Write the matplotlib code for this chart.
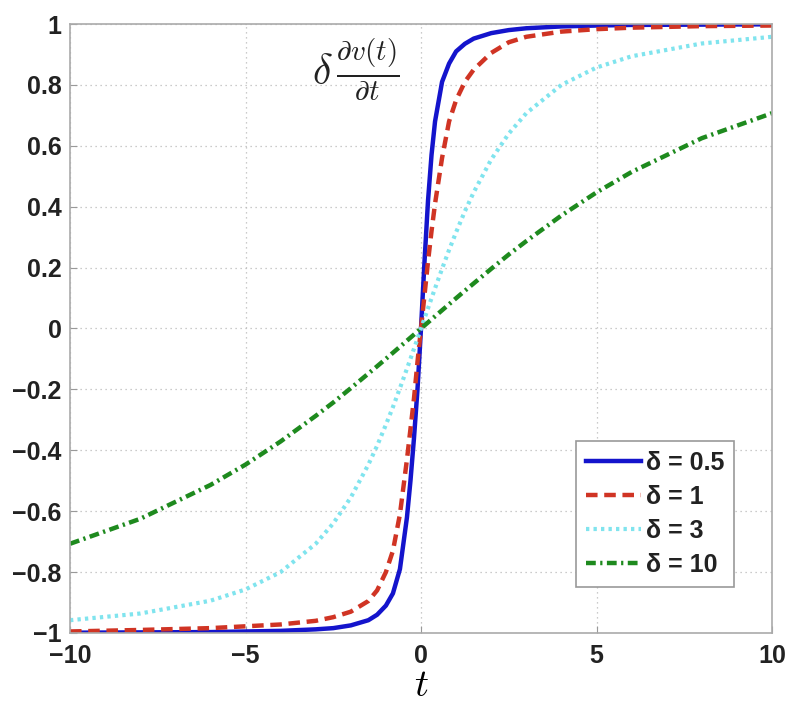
import matplotlib
matplotlib.use("Agg")
import matplotlib.pyplot as plt

# ---- data ----
t = [-10, -8, -6, -5, -4, -3, -2.5, -2, -1.5, -1.25, -1, -0.8, -0.6, -0.4, -0.3, -0.2, -0.1,
     0, 0.1, 0.2, 0.3, 0.4, 0.6, 0.8, 1, 1.25, 1.5, 2, 2.5, 3, 4, 5, 6, 8, 10]

v_d05 = [-0.999, -0.998, -0.997, -0.995, -0.993, -0.988, -0.984, -0.975, -0.958, -0.940, -0.910,
         -0.870, -0.790, -0.620, -0.500, -0.360, -0.200,
         0.0, 0.220, 0.420, 0.570, 0.680, 0.810, 0.870, 0.910, 0.935, 0.952, 0.970, 0.980,
         0.986, 0.992, 0.995, 0.997, 0.998, 0.999]
v_d1 = [-0.995, -0.990, -0.984, -0.978, -0.972, -0.960, -0.948, -0.930, -0.895, -0.860, -0.800,
        -0.730, -0.610, -0.430, -0.330, -0.230, -0.110,
        0.0, 0.110, 0.220, 0.320, 0.410, 0.560, 0.680, 0.750, 0.810, 0.850, 0.905, 0.940,
        0.958, 0.975, 0.983, 0.988, 0.993, 0.995]
v_d3 = [-0.958, -0.936, -0.894, -0.857, -0.800, -0.707, -0.640, -0.555, -0.447, -0.385, -0.316,
        -0.258, -0.196, -0.132, -0.0995, -0.0665, -0.0333,
        0.0, 0.0333, 0.0665, 0.0995, 0.132, 0.196, 0.258, 0.316, 0.385, 0.447, 0.555, 0.640,
        0.707, 0.800, 0.857, 0.894, 0.936, 0.958]
v_d10 = [-0.707, -0.625, -0.514, -0.447, -0.371, -0.287, -0.243, -0.196, -0.148, -0.124, -0.0995,
         -0.0797, -0.0599, -0.040, -0.030, -0.020, -0.010,
         0.0, 0.010, 0.020, 0.030, 0.040, 0.0599, 0.0797, 0.0995, 0.124, 0.148, 0.196, 0.243,
         0.287, 0.371, 0.447, 0.514, 0.625, 0.707]

labels = ["δ = 0.5", "δ = 1", "δ = 3", "δ = 10"]
xticks = [-10, -5, 0, 5, 10]
yticks = [-1, -0.8, -0.6, -0.4, -0.2, 0, 0.2, 0.4, 0.6, 0.8, 1]
yticklabels = ["−1", "−0.8", "−0.6", "−0.4", "−0.2", "0", "0.2", "0.4", "0.6", "0.8", "1"]
xticklabels = ["−10", "−5", "0", "5", "10"]

plt.rcParams['mathtext.fontset'] = 'cm'
plt.rcParams['font.family'] = ['Liberation Sans', 'DejaVu Sans']

fig = plt.figure(figsize=(8.0, 7.09), dpi=100)
ax = fig.add_axes([70/800, 1 - 633/709, 702/800, 609/709])

ax.plot(t, v_d05, color='#1414cc', lw=3.2, ls='-', label=labels[0])
ax.plot(t, v_d1, color='#d03424', lw=3.2, ls=(0, (2.6, 1.5)), label=labels[1])
ax.plot(t, v_d3, color='#80e4ee', lw=3.0, ls=(0, (0.8, 1.0)), label=labels[2])
ax.plot(t, v_d10, color='#1e8a1e', lw=3.2, ls=(0, (2.2, 1.0, 0.5, 1.0)), label=labels[3])

ax.set_xlim(-10, 10)
ax.set_ylim(-1, 1)
ax.set_xticks(xticks)
ax.set_xticklabels(xticklabels)
ax.set_yticks(yticks)
ax.set_yticklabels(yticklabels)
ax.tick_params(direction='in', length=5, color='#999999', labelsize=18, labelcolor='#222222')
ax.tick_params(axis='x', pad=8)
ax.tick_params(axis='y', pad=6)
for lab in ax.get_xticklabels() + ax.get_yticklabels():
    lab.set_fontweight('bold')
ax.grid(True, ls=(0, (1, 3)), color='#bbbbbb', lw=0.9)
for s in ax.spines.values():
    s.set_color('#aaaaaa')
    s.set_linewidth(1.2)

ax.set_xlabel(r'$t$', fontsize=28, labelpad=0)

ax.text(-1.85, 0.85, r'$\delta\,\frac{\partial v(t)}{\partial t}$', fontsize=30,
        ha='center', va='center', color='#222222')

leg = ax.legend(loc='lower right', bbox_to_anchor=(0.946, 0.0755), borderaxespad=0,
                fancybox=False, edgecolor='#999999', framealpha=1,
                prop={'family': ['Liberation Sans', 'DejaVu Sans'], 'weight': 'bold', 'size': 18},
                handlelength=2.2, handletextpad=0.2, labelspacing=0.4, borderpad=0.4)
leg.get_frame().set_linewidth(1.2)
for txt in leg.get_texts():
    txt.set_color('#222222')

fig.savefig('out.png', dpi=100)
